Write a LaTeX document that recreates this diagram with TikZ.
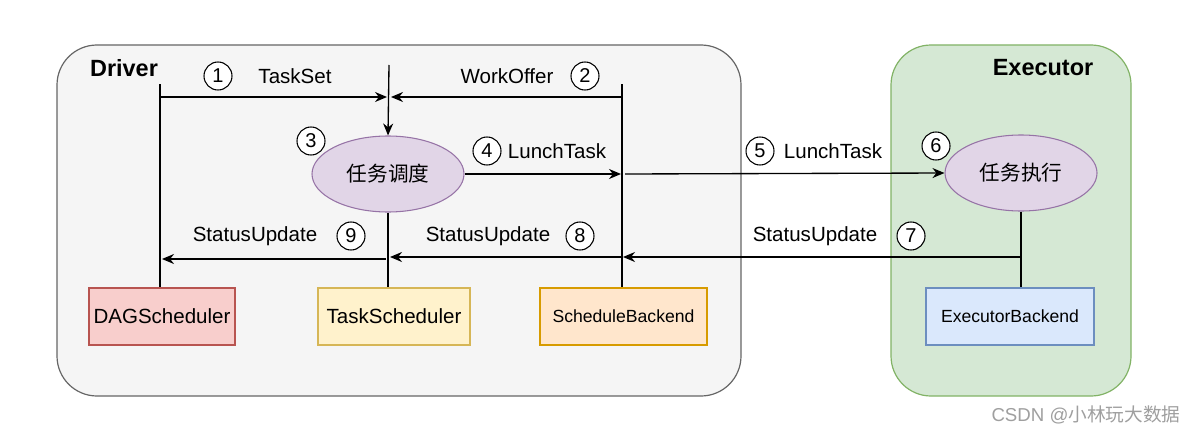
\documentclass[tikz,border=0pt]{standalone}
\usepackage{fontspec}
\setmainfont{Liberation Sans}
\newfontfamily\cjk{Noto Sans CJK SC}
\usetikzlibrary{arrows.meta,shapes.geometric}
\definecolor{contfill}{HTML}{F5F5F5}
\definecolor{contdraw}{HTML}{666666}
\definecolor{exfill}{HTML}{D5E8D4}
\definecolor{exdraw}{HTML}{82B366}
\definecolor{redfill}{HTML}{F8CECC}
\definecolor{reddraw}{HTML}{B85450}
\definecolor{yelfill}{HTML}{FFF2CC}
\definecolor{yeldraw}{HTML}{D6B656}
\definecolor{orfill}{HTML}{FFE6CC}
\definecolor{ordraw}{HTML}{D79B00}
\definecolor{bluefill}{HTML}{DAE8FC}
\definecolor{bluedraw}{HTML}{6C8EBF}
\definecolor{purfill}{HTML}{E1D5E7}
\definecolor{purdraw}{HTML}{9673A6}
\begin{document}
\begin{tikzpicture}[x=0.75pt,y=-0.75pt,
  line width=1pt,
  arr/.style={-{Stealth[length=9pt,width=7.5pt]}},
  box/.style={draw, line width=0.8pt, minimum height=42.75pt, inner sep=0pt, font=\fontsize{15.4}{18}\selectfont},
  smallbox/.style={box, font=\fontsize{13.2}{16}\selectfont},
  ell/.style={ellipse, draw=purdraw, fill=purfill, line width=0.8pt, minimum width=114pt, minimum height=57pt, inner sep=0pt, font=\cjk\fontsize{15.5}{18}\selectfont},
  lbl/.style={inner sep=0pt, font=\fontsize{15.4}{18}\selectfont},
  num/.style={circle, draw, line width=0.8pt, minimum size=21pt, inner sep=0pt, fill=white, font=\fontsize{15}{18}\selectfont},
  title/.style={inner sep=0pt, font=\bfseries\fontsize{17.6}{20}\selectfont}
]
\useasboundingbox (0,0) rectangle (1198,435);
\fill[white] (0,0) rectangle (1198,435);

% containers
\draw[fill=contfill, draw=contdraw, line width=0.9pt, rounded corners=30pt] (57,45) rectangle (741,396);
\draw[fill=exfill, draw=exdraw, line width=0.9pt, rounded corners=30pt] (891,45) rectangle (1131,396);
\node[title] (driver) at (124,68) {Driver};
\node[title] (executor) at (1043,68) {Executor};

% boxes
\node[box, fill=redfill, draw=reddraw, minimum width=109.5pt] (DAG) at (162,316.5) {DAGScheduler};
\node[box, fill=yelfill, draw=yeldraw, minimum width=114pt] (TS) at (394,316.5) {TaskScheduler};
\node[smallbox, fill=orfill, draw=ordraw, minimum width=125.25pt] (SB) at (623.5,316.5) {ScheduleBackend};
\node[smallbox, fill=bluefill, draw=bluedraw, minimum width=126pt] (EB) at (1010,316.5) {ExecutorBackend};

% ellipses
\node[ell] (E1) at (388,174) {任务调度};
\node[ell] (E2) at (1021,173) {任务执行};

% coordinates
\coordinate (dTop) at (160,84);
\coordinate (a1s) at (160,97);
\coordinate (a1e) at (387,97);
\coordinate (vTop) at (389,65);
\coordinate (sTop) at (622,84);
\coordinate (a2s) at (622,97);
\coordinate (a2e) at (391,97);
\coordinate (a4e) at (621,174);
\coordinate (a5s) at (625,174);
\coordinate (a7s) at (1020,257);
\coordinate (a7e) at (623,257);
\coordinate (a8s) at (622,257);
\coordinate (a8e) at (390,257);
\coordinate (a9s) at (386,259);
\coordinate (a9e) at (162,259);

% connectors
\draw (dTop) -- (dTop |- DAG.north);
\draw (sTop) -- (sTop |- SB.north);
\draw[arr] (a1s) -- (a1e);
\draw[arr] (a2s) -- (a2e);
\draw[arr] (vTop) -- (E1.north);
\draw[arr] (E1.east) -- (a4e);
\draw[arr] (a5s) -- (E2.west);
\draw (E2.south) -- (E2.south |- EB.north);
\draw (E1.south) -- (E1.south |- TS.north);
\draw[arr] (a7s) -- (a7e);
\draw[arr] (a8s) -- (a8e);
\draw[arr] (a9s) -- (a9e);

% labels
\node[num] (n1) at (218,76) {1};
\node[lbl] (l1) at (295,76) {TaskSet};
\node[num] (n2) at (585,76) {2};
\node[lbl] (l2) at (507,76) {WorkOffer};
\node[num] (n3) at (311,141) {3};
\node[num] (n4) at (487,151) {4};
\node[lbl] (l4) at (557,151) {LunchTask};
\node[num] (n5) at (760,151) {5};
\node[lbl] (l5) at (833,151) {LunchTask};
\node[num] (n6) at (936,146) {6};
\node[num] (n7) at (911,236) {7};
\node[lbl] (l7) at (815,236) {StatusUpdate};
\node[num] (n8) at (580,236) {8};
\node[lbl] (l8) at (488,236) {StatusUpdate};
\node[num] (n9) at (351,236) {9};
\node[lbl] (l9) at (255,236) {StatusUpdate};

% watermark
\node[inner sep=0pt, text=gray!75, font=\fontsize{14}{16}\selectfont] (wm) at (1086,415) {CSDN @{\cjk 小林玩大数据}};
\end{tikzpicture}
\end{document}
